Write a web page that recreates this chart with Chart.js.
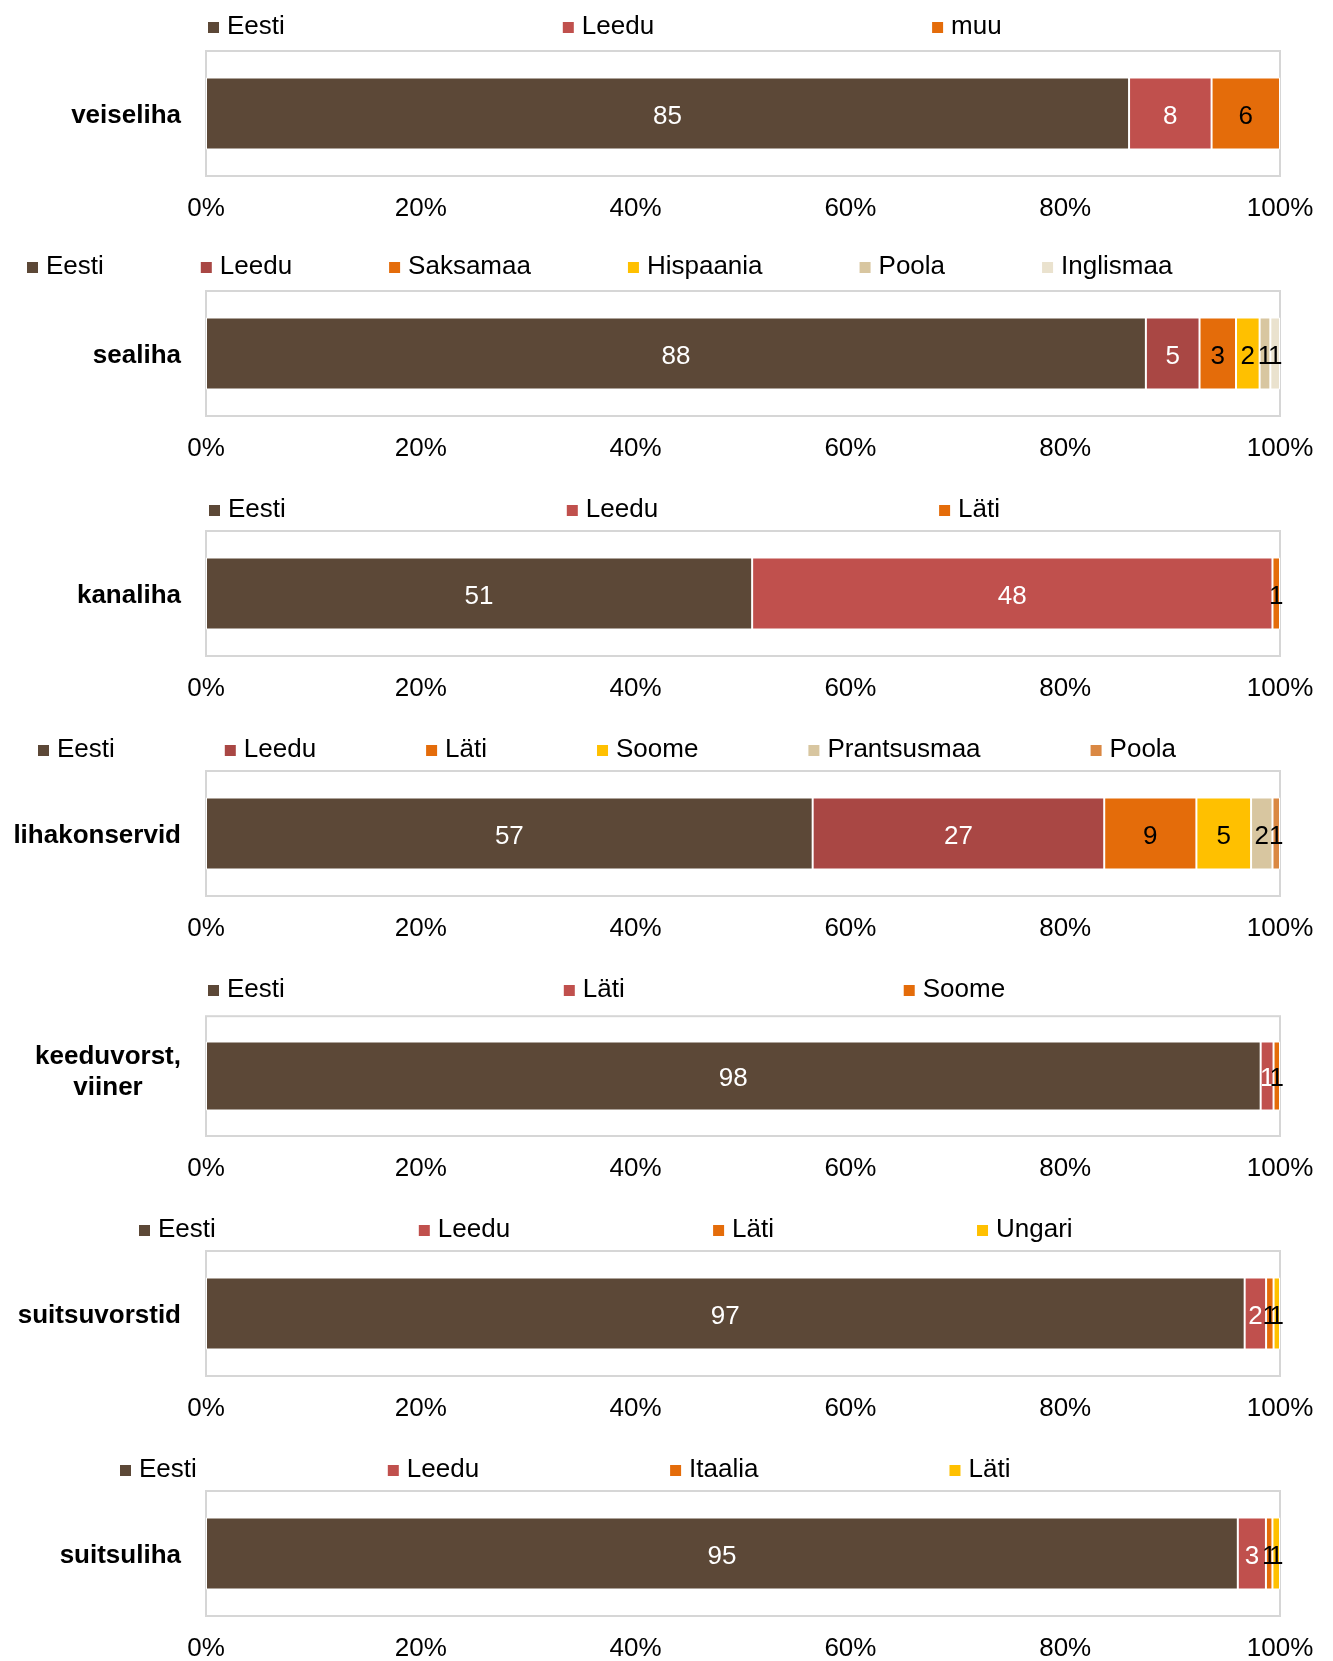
<!DOCTYPE html>
<html>
<head>
<meta charset="utf-8">
<script src="https://cdn.jsdelivr.net/npm/chart.js@4/dist/chart.umd.min.js"></script>
<style>
  html, body { margin: 0; padding: 0; background: #fff; overflow: hidden; }
  #wrap { position: relative; width: 1333px; height: 1661px; }
  #wrap canvas { position: absolute; left: 0; }
</style>
</head>
<body>
<div id="wrap"></div>
<script>
// ---- Data ----
const categories = ['veiseliha', 'sealiha', 'kanaliha', 'lihakonservid', ['keeduvorst,', 'viiner'], 'suitsuvorstid', 'suitsuliha'];

const names1 = ['Eesti', 'Leedu', 'muu'];
const values1 = [85.0, 7.6, 6.3];

const names2 = ['Eesti', 'Leedu', 'Saksamaa', 'Hispaania', 'Poola', 'Inglismaa'];
const values2 = [87.6, 5.0, 3.4, 2.2, 1.0, 0.9];

const names3 = ['Eesti', 'Leedu', 'Läti'];
const values3 = [50.8, 48.4, 0.7];

const names4 = ['Eesti', 'Leedu', 'Läti', 'Soome', 'Prantsusmaa', 'Poola'];
const values4 = [56.6, 27.2, 8.6, 5.1, 2.0, 0.7];

const names5 = ['Eesti', 'Läti', 'Soome'];
const values5 = [98.2, 1.2, 0.6];

const names6 = ['Eesti', 'Leedu', 'Läti', 'Ungari'];
const values6 = [97.0, 2.0, 0.7, 0.6];

const names7 = ['Eesti', 'Leedu', 'Itaalia', 'Läti'];
const values7 = [95.4, 2.6, 0.6, 0.7];

const xTickValues = [0, 20, 40, 60, 80, 100];

// ---- Styles ----
const BROWN = '#5C4837', RED = '#C0504D', DARKRED = '#A94744', ORANGE = '#E46C0A',
      YELLOW = '#FFC000', TAN = '#D8C6A0', BEIGE = '#EAE2CE', LORANGE = '#DA8843';
const colors1 = [BROWN, RED, ORANGE];
const colors2 = [BROWN, DARKRED, ORANGE, YELLOW, TAN, BEIGE];
const colors3 = [BROWN, RED, ORANGE];
const colors4 = [BROWN, DARKRED, ORANGE, YELLOW, TAN, LORANGE];
const colors5 = [BROWN, RED, ORANGE];
const colors6 = [BROWN, RED, ORANGE, YELLOW];
const colors7 = [BROWN, RED, ORANGE, YELLOW];

const FONT = '"Liberation Sans", Arial, Helvetica, sans-serif';

const panels = [
  { names: names1, values: values1, colors: colors1, legendX: 208, legendGap: 278, legendY: 27 },
  { names: names2, values: values2, colors: colors2, legendX: 27,  legendGap: 97,  legendY: 27 },
  { names: names3, values: values3, colors: colors3, legendX: 209, legendGap: 281, legendY: 30 },
  { names: names4, values: values4, colors: colors4, legendX: 38,  legendGap: 110, legendY: 30 },
  { names: names5, values: values5, colors: colors5, legendX: 208, legendGap: 279, legendY: 30 },
  { names: names6, values: values6, colors: colors6, legendX: 139, legendGap: 203, legendY: 30 },
  { names: names7, values: values7, colors: colors7, legendX: 120, legendGap: 191, legendY: 30 }
];

const panelDecor = {
  id: 'panelDecor',
  beforeDatasetsDraw(chart, args, opts) {
    const { ctx, chartArea: a } = chart;
    ctx.save();
    ctx.strokeStyle = '#D6D6D6';
    ctx.lineWidth = 2;
    ctx.strokeRect(a.left, a.top, a.right - a.left, a.bottom - a.top);
    ctx.restore();
  },
  afterDatasetsDraw(chart, args, opts) {
    const ctx = chart.ctx;
    ctx.save();
    ctx.font = '26px ' + FONT;
    ctx.textAlign = 'center';
    ctx.textBaseline = 'middle';
    chart.data.datasets.forEach((ds, i) => {
      const meta = chart.getDatasetMeta(i);
      meta.data.forEach((el, j) => {
        const p = el.getProps(['x', 'y', 'base'], true);
        ctx.fillStyle = ds.labelColor;
        ctx.fillText(String(Math.round(ds.rawValues[j])), (p.x + p.base) / 2, p.y + 3);
      });
    });
    // legend
    let x = opts.legendX;
    const y = opts.legendY;
    ctx.textAlign = 'left';
    chart.data.datasets.forEach(ds => {
      ctx.fillStyle = ds.backgroundColor;
      ctx.fillRect(x, y - 5, 11, 11);
      ctx.fillStyle = '#000';
      ctx.fillText(ds.label, x + 19, y);
      x += 19 + ctx.measureText(ds.label).width + opts.legendGap;
    });
    ctx.restore();
  }
};

const wrap = document.getElementById('wrap');
panels.forEach((p, i) => {
  const canvas = document.createElement('canvas');
  canvas.width = 1333;
  canvas.height = 240;
  canvas.style.width = '1333px';
  canvas.style.height = '240px';
  canvas.style.top = (i * 240) + 'px';
  wrap.appendChild(canvas);

  const total = p.values.reduce((s, v) => s + v, 0);
  const datasets = p.names.map((name, k) => ({
    label: name,
    data: [p.values[k] / total * 100],
    rawValues: [p.values[k]],
    backgroundColor: p.colors[k],
    borderColor: '#FFFFFF',
    borderWidth: 1,
    borderSkipped: false,
    barPercentage: 1,
    categoryPercentage: 0.576,
    labelColor: (p.colors[k] === BROWN || p.colors[k] === RED || p.colors[k] === DARKRED) ? '#FFFFFF' : '#000000'
  }));

  const multiLine = Array.isArray(categories[i]);

  new Chart(canvas, {
    type: 'bar',
    data: { labels: [categories[i]], datasets },
    options: {
      indexAxis: 'y',
      responsive: false,
      animation: false,
      events: [],
      layout: { padding: { top: 51, right: 53, left: 0, bottom: 0 } },
      plugins: {
        legend: { display: false },
        tooltip: { enabled: false },
        title: { display: false },
        panelDecor: { legendX: p.legendX, legendGap: p.legendGap, legendY: p.legendY }
      },
      scales: {
        x: {
          stacked: true,
          min: 0,
          max: 100,
          afterBuildTicks: s => { s.ticks = xTickValues.map(v => ({ value: v })); },
          grid: { display: false, drawTicks: false },
          border: { display: false },
          ticks: {
            callback: v => v + '%',
            font: { family: FONT, size: 26 },
            color: '#000',
            padding: 17,
            maxRotation: 0,
            autoSkip: false
          },
          afterFit: s => { s.height = 64; }
        },
        y: {
          stacked: true,
          grid: { display: false, drawTicks: false },
          border: { display: false },
          ticks: {
            font: { family: FONT, size: 26, weight: 'bold' },
            color: '#000',
            padding: 25,
            labelOffset: multiLine ? -4 : 2,
            crossAlign: multiLine ? 'center' : 'near'
          },
          afterFit: s => { s.width = 206; }
        }
      }
    },
    plugins: [panelDecor]
  });
});
</script>
</body>
</html>
